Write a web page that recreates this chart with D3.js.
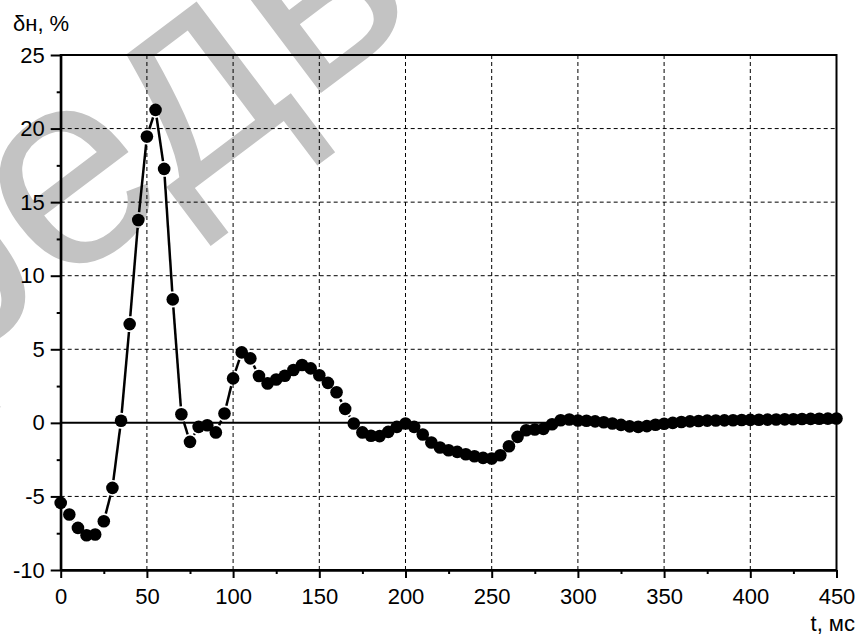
<!DOCTYPE html>
<html>
<head>
<meta charset="utf-8">
<script src="https://cdn.jsdelivr.net/npm/d3@7"></script>
<style>
    body { margin: 0; background: #fff; }
    svg { display: block; font-family: "Liberation Sans", Arial, sans-serif; }
    .axis path, .axis line { stroke: #000; stroke-width: 2; }
    .axis text { font-size: 22px; fill: #000; }
    .grid line { stroke: #000; stroke-width: 1; stroke-dasharray: 4,3; }
    .zero { stroke: #000; stroke-width: 2; }
    .frame { fill: none; stroke: #000; stroke-width: 2; }
    .seg { stroke: #000; stroke-width: 2.5; }
    .dot { fill: #000; }
    .caption { font-size: 22px; fill: #000; }
    .watermark { font-size: 280px; fill: #c3c3c3; }
</style>
</head>
<body>
<div id="chart"></div>
<script>

// time, ms (step 5)
var times = [
    0, 5, 10, 15, 20, 25, 30, 35, 40, 45,
    50, 55, 60, 65, 70, 75, 80, 85, 90, 95,
    100, 105, 110, 115, 120, 125, 130, 135, 140, 145,
    150, 155, 160, 165, 170, 175, 180, 185, 190, 195,
    200, 205, 210, 215, 220, 225, 230, 235, 240, 245,
    250, 255, 260, 265, 270, 275, 280, 285, 290, 295,
    300, 305, 310, 315, 320, 325, 330, 335, 340, 345,
    350, 355, 360, 365, 370, 375, 380, 385, 390, 395,
    400, 405, 410, 415, 420, 425, 430, 435, 440, 445,
    450
];

// deviation, %
var deviation = [
    -5.44, -6.23, -7.14, -7.64, -7.59, -6.69, -4.42, 0.14, 6.71, 13.79,
    19.46, 21.27, 17.26, 8.39, 0.59, -1.29, -0.27, -0.16, -0.65, 0.64,
    3.02, 4.79, 4.38, 3.18, 2.68, 2.95, 3.2, 3.59, 3.93, 3.70,
    3.24, 2.72, 2.08, 0.95, -0.04, -0.65, -0.88, -0.90, -0.61, -0.27,
    -0.04, -0.27, -0.79, -1.33, -1.67, -1.86, -1.97, -2.13, -2.27, -2.38,
    -2.42, -2.20, -1.59, -0.95, -0.50, -0.45, -0.41, -0.09, 0.18, 0.23,
    0.16, 0.14, 0.10, 0.04, -0.04, -0.14, -0.24, -0.27, -0.22, -0.13,
    -0.06, 0.0, 0.06, 0.10, 0.13, 0.15, 0.16, 0.17, 0.18, 0.19,
    0.20, 0.21, 0.22, 0.23, 0.24, 0.25, 0.26, 0.27, 0.28, 0.29,
    0.30
];

var xTicks = [0, 50, 100, 150, 200, 250, 300, 350, 400, 450];
var xMinor = [25, 75, 125, 175, 225, 275, 325, 375, 425];
var yTicks = [-10, -5, 0, 5, 10, 15, 20, 25];
var yMinor = [-7.5, -2.5, 2.5, 7.5, 12.5, 17.5, 22.5];

var yTitle = "δн, %";
var xTitle = "t, мс";
var watermarkText = "предварительный";

var width = 860
    , height = 637
    , margin = {top: 55, right: 23.5, bottom: 67, left: 60.7}
    , w = width - margin.left - margin.right
    , h = height - margin.top - margin.bottom
    , r = 6.3
    , gap = 1.6
    ;

var data = times.map(function(t, i) { return {t: t, v: deviation[i]}; });

var svg = d3.select("#chart")
    .append("svg")
    .attr("width", width)
    .attr("height", height);

// faint watermark behind the chart
svg.append("text")
    .attr("class", "watermark")
    .attr("transform", "translate(-190,478) rotate(-37)")
    .text(watermarkText);

var g = svg.append("g")
    .attr("transform", "translate(" + margin.left + "," + margin.top + ")");

var x = d3.scaleLinear()
    .domain([0, 450])
    .range([0, w]);

var y = d3.scaleLinear()
    .domain([-10, 25])
    .range([h, 0]);

// grid
var grid = g.append("g").attr("class", "grid");

grid.selectAll(".gx")
    .data(xTicks.filter(function(d) { return d > 0 && d < 450; }))
    .enter().append("line")
    .attr("x1", function(d) { return x(d); })
    .attr("x2", function(d) { return x(d); })
    .attr("y1", 0)
    .attr("y2", h);

grid.selectAll(".gy")
    .data(yTicks.filter(function(d) { return d > -10 && d < 25 && d != 0; }))
    .enter().append("line")
    .attr("x1", 0)
    .attr("x2", w)
    .attr("y1", function(d) { return y(d); })
    .attr("y2", function(d) { return y(d); });

g.append("line")
    .attr("class", "zero")
    .attr("x1", 0)
    .attr("x2", w)
    .attr("y1", y(0))
    .attr("y2", y(0));

// axes
g.append("g")
    .attr("class", "axis axis--x-minor")
    .attr("transform", "translate(0," + h + ")")
    .call(d3.axisBottom(x).tickValues(xMinor).tickSize(4).tickSizeOuter(0).tickFormat(""));

g.append("g")
    .attr("class", "axis axis--x")
    .attr("transform", "translate(0," + h + ")")
    .call(d3.axisBottom(x)
        .tickValues(xTicks)
        .tickSize(8)
        .tickSizeOuter(0)
        .tickPadding(10)
        .tickFormat(function(d) { return String(d); }));

g.append("g")
    .attr("class", "axis axis--y-minor")
    .call(d3.axisLeft(y).tickValues(yMinor).tickSize(4).tickSizeOuter(0).tickFormat(""));

g.append("g")
    .attr("class", "axis axis--y")
    .call(d3.axisLeft(y)
        .tickValues(yTicks)
        .tickSize(10)
        .tickSizeOuter(0)
        .tickPadding(6)
        .tickFormat(function(d) { return String(d); }));

g.append("rect")
    .attr("class", "frame")
    .attr("x", 0)
    .attr("y", 0)
    .attr("width", w)
    .attr("height", h);

// line segments, broken near the markers
var segs = d3.pairs(data).map(function(p) {
    var x1 = x(p[0].t), y1 = y(p[0].v)
        , x2 = x(p[1].t), y2 = y(p[1].v)
        , dx = x2 - x1, dy = y2 - y1
        , len = Math.sqrt(dx * dx + dy * dy)
        , cut = r + gap;
    if (len <= 2 * cut) return null;
    var ux = dx / len, uy = dy / len;
    return [x1 + ux * cut, y1 + uy * cut, x2 - ux * cut, y2 - uy * cut];
}).filter(function(s) { return s; });

g.append("g")
    .selectAll("line")
    .data(segs)
    .enter().append("line")
    .attr("class", "seg")
    .attr("x1", function(s) { return s[0]; })
    .attr("y1", function(s) { return s[1]; })
    .attr("x2", function(s) { return s[2]; })
    .attr("y2", function(s) { return s[3]; });

g.append("g")
    .selectAll("circle")
    .data(data)
    .enter().append("circle")
    .attr("class", "dot")
    .attr("r", r)
    .attr("cx", function(d) { return x(d.t); })
    .attr("cy", function(d) { return y(d.v); });

// titles
svg.append("text")
    .attr("class", "caption")
    .attr("x", 13)
    .attr("y", 31)
    .text(yTitle);

svg.append("text")
    .attr("class", "caption")
    .attr("x", 855)
    .attr("y", 631)
    .attr("text-anchor", "end")
    .text(xTitle);

</script>
</body>
</html>
